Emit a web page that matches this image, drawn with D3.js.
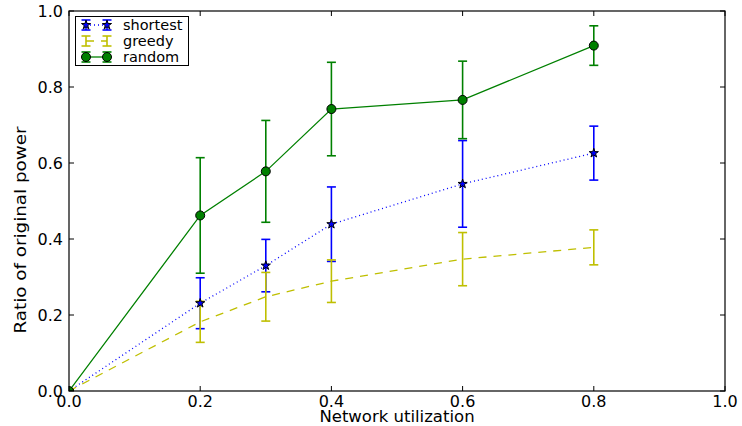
<!DOCTYPE html>
<html>
<head>
<meta charset="utf-8">
<script src="https://cdn.jsdelivr.net/npm/d3@7"></script>
<style>
  html, body { margin: 0; padding: 0; background: #fff; }
  svg { display: block; font-family: "DejaVu Sans", sans-serif; }
</style>
</head>
<body>
<svg id="chart" width="742" height="426"></svg>
<script>
// values
const utilization = [0, 0.2, 0.3, 0.4, 0.6, 0.8];
const shortest = [0, 0.231, 0.330, 0.439, 0.545, 0.626];
const shortestErr = [0, 0.067, 0.069, 0.098, 0.114, 0.071];
const greedy = [0, 0.182, 0.248, 0.289, 0.347, 0.378];
const greedyErr = [0, 0.054, 0.064, 0.056, 0.070, 0.046];
const random = [0, 0.462, 0.578, 0.742, 0.766, 0.909];
const randomErr = [0, 0.152, 0.134, 0.123, 0.102, 0.052];
const xTicks = [0, 0.2, 0.4, 0.6, 0.8, 1.0];
const yTicks = [0, 0.2, 0.4, 0.6, 0.8, 1.0];

const series = [
  {name: 'shortest', y: shortest, err: shortestErr, color: '#0000ff', dash: '1,3', marker: 'star'},
  {name: 'greedy', y: greedy, err: greedyErr, color: '#bfbf00', dash: '8,7', marker: null},
  {name: 'random', y: random, err: randomErr, color: '#008000', dash: null, marker: 'circle'}
];

const margin = {left: 69, right: 17, top: 11, bottom: 35};
const width = 742, height = 426;

const svg = d3.select('#chart');

const x = d3.scaleLinear().domain([0, 1]).range([margin.left, width - margin.right]);
const y = d3.scaleLinear().domain([0, 1]).range([height - margin.bottom, margin.top]);

svg.append('clipPath').attr('id', 'plotclip')
  .append('rect')
  .attr('x', x(0)).attr('y', y(1))
  .attr('width', x(1) - x(0)).attr('height', y(0) - y(1));

const plot = svg.append('g').attr('clip-path', 'url(#plotclip)');
const capW = 4.5;

function drawBars(g, s, xs, ys, es) {
  xs.forEach((xv, i) => {
    const top = y(ys[i] + es[i]), bot = y(ys[i] - es[i]), px = x(xv);
    g.append('line').attr('x1', px).attr('x2', px).attr('y1', top).attr('y2', bot)
      .attr('stroke', s.color).attr('stroke-width', 1.6);
    [top, bot].forEach(cy => {
      g.append('line').attr('x1', px - capW).attr('x2', px + capW).attr('y1', cy).attr('y2', cy)
        .attr('stroke', s.color).attr('stroke-width', 1.6);
    });
  });
}

function drawMarker(g, s, px, py) {
  if (s.marker === 'star') {
    g.append('path')
      .attr('d', d3.symbol().type(d3.symbolStar).size(26)())
      .attr('transform', `translate(${px},${py})`)
      .attr('fill', s.color).attr('stroke', '#000').attr('stroke-width', 1);
  } else if (s.marker === 'circle') {
    g.append('circle').attr('cx', px).attr('cy', py).attr('r', 4.5)
      .attr('fill', s.color).attr('stroke', '#000').attr('stroke-width', 1);
  }
}

const line = d3.line().x(d => x(d[0])).y(d => y(d[1]));

series.forEach(s => {
  const g = plot.append('g');
  drawBars(g, s, utilization, s.y, s.err);
  g.append('path')
    .datum(utilization.map((u, i) => [u, s.y[i]]))
    .attr('d', line)
    .attr('fill', 'none')
    .attr('stroke', s.color)
    .attr('stroke-width', 1.3)
    .attr('stroke-dasharray', s.dash);
});

series.forEach(s => {
  utilization.forEach((u, i) => drawMarker(plot, s, x(u), y(s.y[i])));
});

// frame and inward ticks on all sides
const axes = svg.append('g');
axes.append('rect')
  .attr('x', x(0)).attr('y', y(1))
  .attr('width', x(1) - x(0)).attr('height', y(0) - y(1))
  .attr('fill', 'none').attr('stroke', '#000').attr('stroke-width', 1.2);

const tickLen = 5;
xTicks.forEach(t => {
  axes.append('line').attr('x1', x(t)).attr('x2', x(t)).attr('y1', y(0)).attr('y2', y(0) - tickLen).attr('stroke', '#000');
  axes.append('line').attr('x1', x(t)).attr('x2', x(t)).attr('y1', y(1)).attr('y2', y(1) + tickLen).attr('stroke', '#000');
  axes.append('text').attr('x', x(t)).attr('y', y(0) + 15.5)
    .attr('text-anchor', 'middle').attr('font-size', 16).text(d3.format('.1f')(t));
});
yTicks.forEach(t => {
  axes.append('line').attr('x1', x(0)).attr('x2', x(0) + tickLen).attr('y1', y(t)).attr('y2', y(t)).attr('stroke', '#000');
  axes.append('line').attr('x1', x(1)).attr('x2', x(1) - tickLen).attr('y1', y(t)).attr('y2', y(t)).attr('stroke', '#000');
  axes.append('text').attr('x', x(0) - 6).attr('y', y(t)).attr('dy', '0.36em')
    .attr('text-anchor', 'end').attr('font-size', 16).text(d3.format('.1f')(t));
});

svg.append('text')
  .attr('x', (x(0) + x(1)) / 2).attr('y', 421.5)
  .attr('text-anchor', 'middle').attr('font-size', 16.5)
  .text('Network utilization');

svg.append('text')
  .attr('transform', 'translate(26,230) rotate(-90)')
  .attr('text-anchor', 'middle').attr('font-size', 16)
  .attr('textLength', 207).attr('lengthAdjust', 'spacingAndGlyphs')
  .text('Ratio of original power');

// legend
const legend = svg.append('g');
legend.append('rect')
  .attr('x', 75.5).attr('y', 16.5).attr('width', 113).attr('height', 49)
  .attr('fill', '#fff').attr('stroke', '#000').attr('stroke-width', 1);

series.forEach((s, i) => {
  const ly = 25 + i * 16;
  const hx = [86, 107];
  const g = legend.append('g');
  hx.forEach(px => {
    g.append('line').attr('x1', px).attr('x2', px).attr('y1', ly - 5).attr('y2', ly + 5)
      .attr('stroke', s.color).attr('stroke-width', 1.6);
    [ly - 5, ly + 5].forEach(cy => {
      g.append('line').attr('x1', px - capW).attr('x2', px + capW).attr('y1', cy).attr('y2', cy)
        .attr('stroke', s.color).attr('stroke-width', 1.6);
    });
  });
  g.append('line').attr('x1', hx[0]).attr('x2', hx[1]).attr('y1', ly).attr('y2', ly)
    .attr('stroke', s.color).attr('stroke-width', 1.3).attr('stroke-dasharray', s.dash);
  hx.forEach(px => drawMarker(g, s, px, ly));
  g.append('text').attr('x', 123).attr('y', ly).attr('dy', '0.35em')
    .attr('font-size', 14.5).text(s.name);
});
</script>
</body>
</html>
